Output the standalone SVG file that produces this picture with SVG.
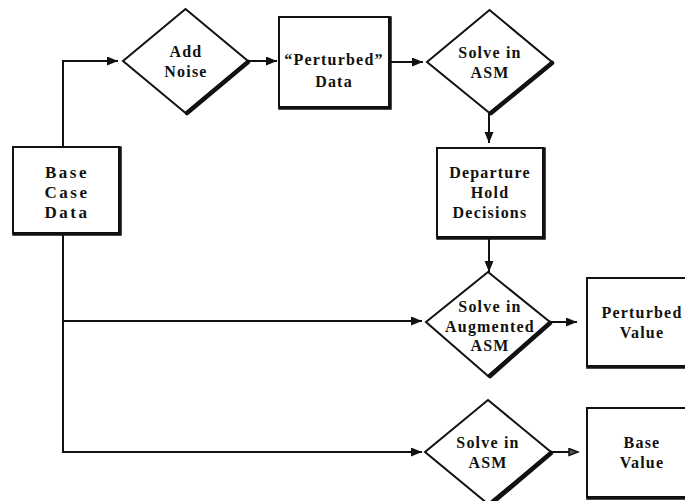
<svg xmlns="http://www.w3.org/2000/svg" width="685" height="501" viewBox="0 0 685 501">
<defs>
<style>
.box{fill:#fff;stroke:#111;stroke-width:2}
.sh{fill:none;stroke:#111;stroke-width:3.5;stroke-linecap:square}
.dsh{fill:none;stroke:#111;stroke-width:4.5;stroke-linecap:round}
.ln{fill:none;stroke:#111;stroke-width:2}
.t{font-family:"Liberation Serif","Times New Roman",serif;font-weight:bold;font-size:16px;fill:#111;text-anchor:middle;letter-spacing:1.2px}
.tw{letter-spacing:2.5px;font-size:17px}
</style>
<marker id="ah" markerUnits="userSpaceOnUse" markerWidth="12" markerHeight="10" refX="11" refY="4.5" orient="auto">
<path d="M0,0 L11,4.5 L0,9 z" fill="#111"/>
</marker>
<marker id="ah2" markerUnits="userSpaceOnUse" markerWidth="12" markerHeight="10" refX="10" refY="4.5" orient="auto">
<path d="M1,1 L10,4.5 L1,8 z" fill="#555" stroke="#111" stroke-width="1.5"/>
</marker>
</defs>
<rect width="685" height="501" fill="#fff"/>
<g id="connectors">
<polyline class="ln" points="63,147 63,61 118,61" marker-end="url(#ah)"/>
<line class="ln" x1="248" y1="61" x2="277" y2="61" marker-end="url(#ah)"/>
<line class="ln" x1="389" y1="62" x2="423" y2="62" marker-end="url(#ah)"/>
<line class="ln" x1="489" y1="113" x2="489" y2="143" marker-end="url(#ah)"/>
<line class="ln" x1="489" y1="237" x2="489" y2="272" marker-end="url(#ah)"/>
<polyline class="ln" points="63,233 63,452 422,452" marker-end="url(#ah)"/>
<line class="ln" x1="63" y1="321" x2="422" y2="321" marker-end="url(#ah)"/>
<line class="ln" x1="550" y1="322" x2="577" y2="322" marker-end="url(#ah)"/>
<line class="ln" x1="551" y1="452" x2="578" y2="452" marker-end="url(#ah2)"/>
</g>
<g id="base-case-data">
<rect class="box" x="13" y="147" width="106" height="86"/>
<polyline class="sh" points="120,148 120,234 14,234"/>
<text class="t tw" x="67" y="178">Base</text>
<text class="t tw" x="67" y="198">Case</text>
<text class="t tw" x="67" y="218">Data</text>
</g>
<g id="add-noise">
<polygon class="box" points="185.5,9 248,61 185.5,113 123,61"/>
<line class="dsh" x1="248" y1="62" x2="187" y2="113"/>
<text class="t" x="186" y="57">Add</text>
<text class="t" x="186" y="77">Noise</text>
</g>
<g id="perturbed-data">
<rect class="box" x="279" y="17" width="110" height="90"/>
<polyline class="sh" points="390,18 390,108 280,108"/>
<text class="t" x="334" y="65">“Perturbed”</text>
<text class="t" x="334" y="87">Data</text>
</g>
<g id="solve-asm-1">
<polygon class="box" points="489.5,10 552,62 489.5,113 427,62"/>
<line class="dsh" x1="552" y1="63" x2="491" y2="113"/>
<text class="t" x="490" y="58">Solve in</text>
<text class="t" x="490" y="78">ASM</text>
</g>
<g id="departure-hold">
<rect class="box" x="437" y="148" width="106" height="89"/>
<polyline class="sh" points="544,149 544,238 438,238"/>
<text class="t" x="490" y="178">Departure</text>
<text class="t" x="490" y="198">Hold</text>
<text class="t" x="490" y="218">Decisions</text>
</g>
<g id="solve-augmented">
<polygon class="box" points="488,272 550,322 488,376 426,322"/>
<line class="dsh" x1="550" y1="323" x2="490" y2="376"/>
<text class="t" x="490" y="312">Solve in</text>
<text class="t" x="490" y="332">Augmented</text>
<text class="t" x="490" y="351">ASM</text>
</g>
<g id="perturbed-value">
<rect class="box" x="587" y="278" width="100" height="88"/>
<line class="sh" x1="588" y1="367" x2="686" y2="367"/>
<text class="t" x="642" y="318">Perturbed</text>
<text class="t" x="642" y="338">Value</text>
</g>
<g id="solve-asm-2">
<polygon class="box" points="488,400 551,452 488,504 425,452"/>
<line class="dsh" x1="551" y1="453" x2="492" y2="503"/>
<text class="t" x="488" y="448">Solve in</text>
<text class="t" x="488" y="468">ASM</text>
</g>
<g id="base-value">
<rect class="box" x="587" y="408" width="100" height="89"/>
<line class="sh" x1="588" y1="498" x2="686" y2="498"/>
<text class="t" x="642" y="448">Base</text>
<text class="t" x="642" y="468">Value</text>
</g>
</svg>
